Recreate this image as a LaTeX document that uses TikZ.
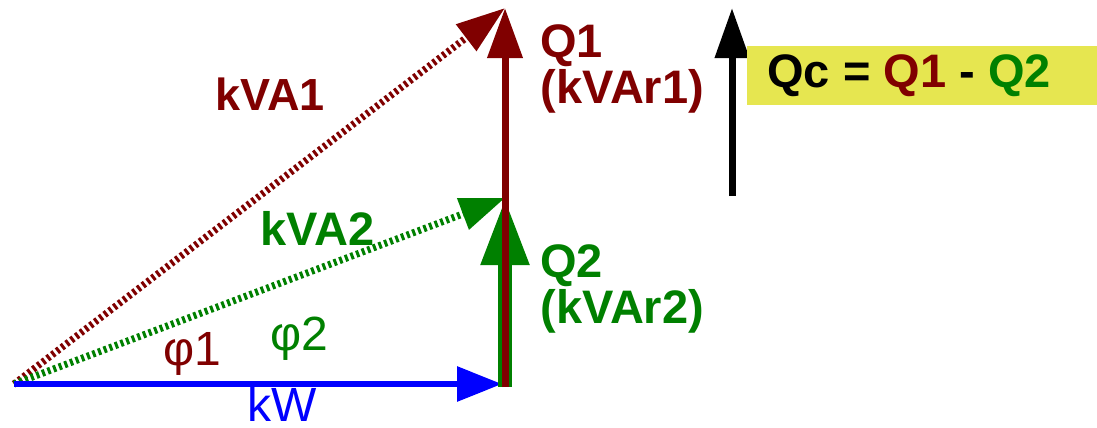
\documentclass[tikz,border=0pt]{standalone}
\usepackage{fontspec}
\setmainfont{Liberation Sans}
\usepackage{xcolor}
\usepackage{tikz}
\usetikzlibrary{arrows.meta,positioning}

\definecolor{qred}{RGB}{128,0,0}
\definecolor{qgreen}{RGB}{0,128,0}
\definecolor{qblue}{RGB}{0,0,255}
\definecolor{qyellow}{RGB}{230,230,80}

\begin{document}
\begin{tikzpicture}[
  x=0.5pt, y=-0.5pt,
  lbl/.style={inner sep=0pt, anchor=base west, align=left,
              font=\fontsize{23.5}{19}\selectfont\bfseries},
  ang/.style={inner sep=0pt, anchor=base west,
              font=\fontsize{24}{19}\selectfont},
  vec/.style={-{Triangle[length=25pt, width=17pt]}},
  dots/.style={line width=3.5pt, dash pattern=on 1.5pt off 1.5pt},
  eqbox/.style={fill=qyellow, inner sep=0pt, anchor=north west,
                minimum width=175pt, minimum height=29.5pt}
]
\useasboundingbox (0,0) rectangle (1097,428);

\coordinate (O) at (14,384);
\coordinate (P) at (502,384);
\coordinate (B) at (505,387);
\coordinate (T1) at (505,8);
\coordinate (T2) at (505,198);
\coordinate (C0) at (732,196);
\coordinate (C1) at (732,8);

% kVA lines
\draw[dots, qred, -{Triangle[length=24.5pt, width=16pt]}] (O) -- (T1);
\draw[dots, qgreen, -{Triangle[length=22.5pt, width=16pt]}] (O) -- (T2);

% kW
\draw[qblue, line width=3pt, -{Triangle[length=22.5pt, width=17pt]}] (O) -- (P);

% Q2 and Q1
\draw[qgreen, line width=7pt, -{Triangle[length=33.5pt, width=22.5pt]}] (B) -- (T2);
\draw[qred, line width=3.5pt, vec] (B) -- (T1);

% Qc
\draw[black, line width=3.5pt, -{Triangle[length=25pt, width=16.5pt]}] (C0) -- (C1);
\node[eqbox] (qcbox) at (747,46) {};
\node[lbl] (qc) at (767,87) {Qc = \textcolor{qred}{Q1} - \textcolor{qgreen}{Q2}};

% labels
\node[lbl, text=qred, font=\fontsize{22.5}{19}\selectfont\bfseries] (kva1) at (215,110) {kVA1};
\node[lbl, text=qgreen] (kva2) at (260,245) {kVA2};
\node[lbl, text=qred] (q1) at (540,103) {Q1\\(kVAr1)};
\node[lbl, text=qgreen] (q2) at (540,323) {Q2\\(kVAr2)};
\node[ang, text=qred] (phi1) at (163,365) {φ1};
\node[ang, text=qgreen] (phi2) at (270,350) {φ2};
\node[ang, text=qblue] (kw) at (247,421) {kW};
\end{tikzpicture}
\end{document}
